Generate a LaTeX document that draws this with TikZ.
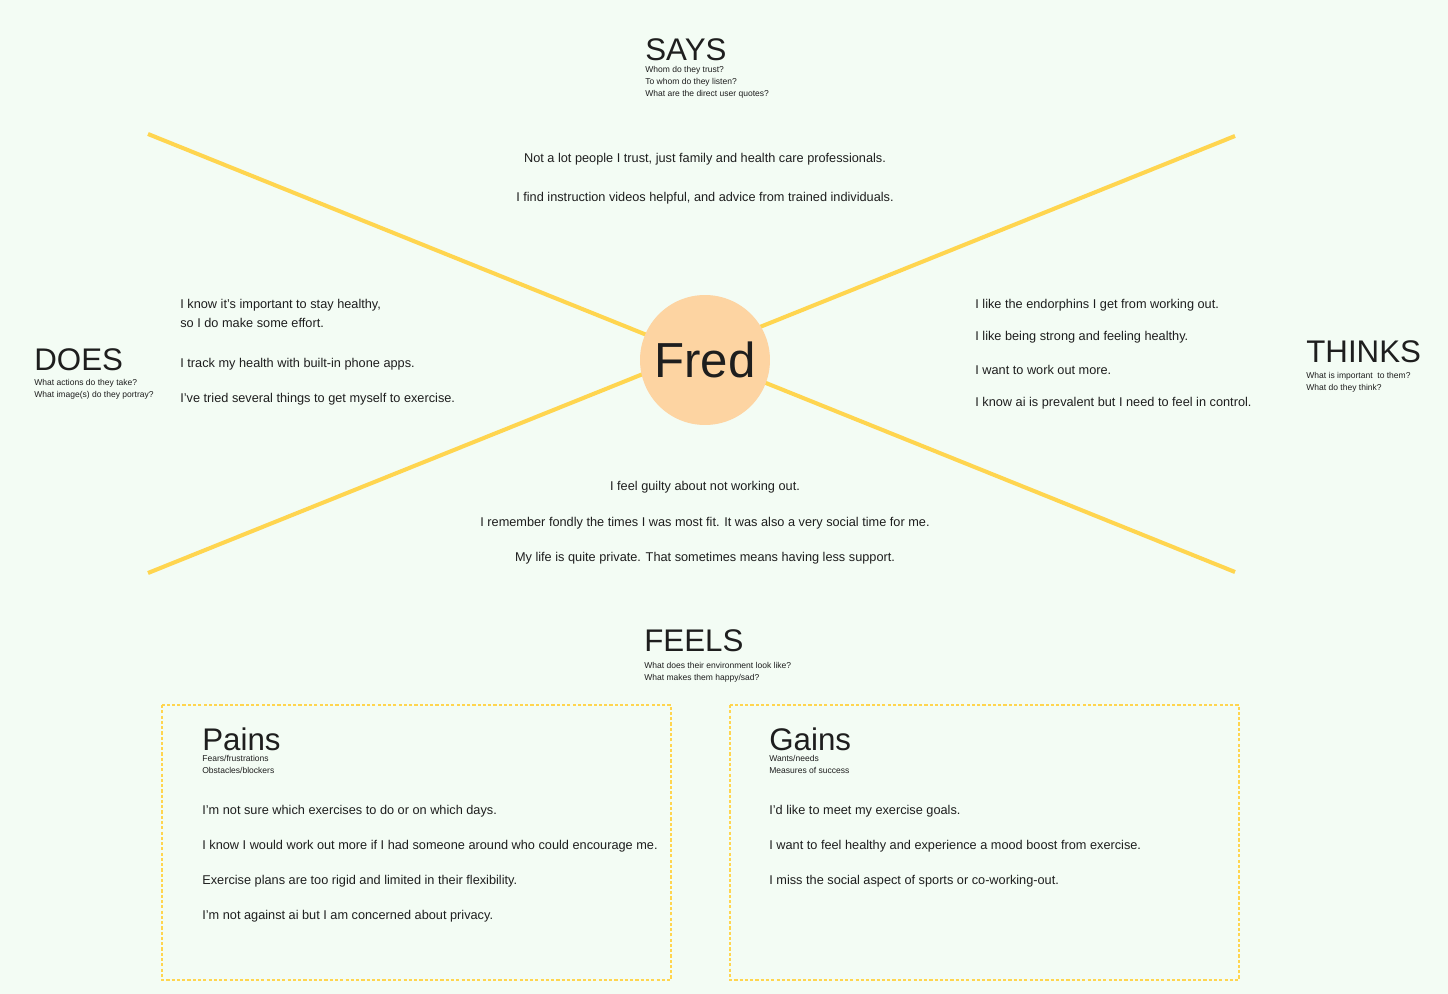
\documentclass[tikz,border=0pt]{standalone}
\usepackage{fontspec}
\setmainfont{Liberation Sans}
\definecolor{mapbg}{HTML}{F3FCF4}
\definecolor{mapline}{HTML}{FFD54F}
\definecolor{fredfill}{HTML}{FDD4A2}
\definecolor{ink}{HTML}{1E1E1E}
\tikzset{
  head/.style={anchor=base west,inner sep=0pt,text=ink,font=\fontsize{17.8}{18}\selectfont},
  hint/.style={anchor=west,inner sep=0pt,text=ink,font=\fontsize{4.85}{5}\selectfont},
  quote/.style={anchor=west,inner sep=0pt,text=ink,font=\fontsize{7.25}{8}\selectfont},
  cquote/.style={quote,anchor=center},
  quad/.style={mapline,line width=2.3pt},
  panel/.style={mapline,line width=1.1pt,dash pattern=on 1.8pt off 1.2pt}
}
\begin{document}
\begin{tikzpicture}[x=0.02cm,y=-0.02cm]
  \fill[mapbg] (0,0) rectangle (1448,994);
  \useasboundingbox (0,0) rectangle (1448,994);
  % the four quadrant lines
  \coordinate (nw) at (148,134);
  \coordinate (se) at (1235,572);
  \coordinate (sw) at (148,573);
  \coordinate (ne) at (1235,136);
  \draw[quad] (nw) -- (se);
  \draw[quad] (sw) -- (ne);
  \node[circle,fill=fredfill,minimum size=2.6cm,inner sep=0pt,text=ink,
        font=\fontsize{28}{28}\selectfont] (fred) at (705,360) {Fred};
  % says
  \node[head] (says) at (645,60) {SAYS};
  \node[hint] (says1) at (645,70) {Whom do they trust?};
  \node[hint] (says2) at (645,82) {To whom do they listen?};
  \node[hint] (says3) at (645,94) {What are the direct user quotes?};
  \node[cquote] (sq1) at (705,159) {Not a lot people I trust, just family and health care professionals.};
  \node[cquote] (sq2) at (705,198) {I find instruction videos helpful, and advice from trained individuals.};
  % does
  \node[head] (does) at (34,370) {DOES};
  \node[hint] (does1) at (34,383) {What actions do they take?};
  \node[hint] (does2) at (34,395) {What image(s) do they portray?};
  \node[quote] (dq1) at (180,305) {I know it’s important to stay healthy,};
  \node[quote] (dq2) at (180,323) {so I do make some effort.};
  \node[quote] (dq3) at (180,364) {I track my health with built-in phone apps.};
  \node[quote] (dq4) at (180,399) {I’ve tried several things to get myself to exercise.};
  % thinks
  \node[head] (thinks) at (1306,362) {THINKS};
  \node[hint] (thinks1) at (1306,376) {What is important\ \ to them?};
  \node[hint] (thinks2) at (1306,388) {What do they think?};
  \node[quote] (tq1) at (975,305) {I like the endorphins I get from working out.};
  \node[quote] (tq2) at (975,337) {I like being strong and feeling healthy.};
  \node[quote] (tq3) at (975,370) {I want to work out more.};
  \node[quote] (tq4) at (975,403) {I know ai is prevalent but I need to feel in control.};
  % feels
  \node[cquote] (fq1) at (705,487) {I feel guilty about not working out.};
  \node[cquote] (fq2) at (705,523) {I remember fondly the times I was most fit. It was also a very social time for me.};
  \node[cquote] (fq3) at (705,558) {My life is quite private. That sometimes means having less support.};
  \node[head] (feels) at (644,651) {FEELS};
  \node[hint] (feels1) at (644,665) {What does their environment look like?};
  \node[hint] (feels2) at (644,678) {What makes them happy/sad?};
  % pains and gains
  \draw[panel] (162,705) rectangle (671,980);
  \draw[panel] (730,705) rectangle (1239,980);
  \node[head] (pains) at (202,750) {Pains};
  \node[hint] (pains1) at (202,758) {Fears/frustrations};
  \node[hint] (pains2) at (202,770) {Obstacles/blockers};
  \node[quote] (pq1) at (202,811) {I’m not sure which exercises to do or on which days.};
  \node[quote] (pq2) at (202,846) {I know I would work out more if I had someone around who could encourage me.};
  \node[quote] (pq3) at (202,881) {Exercise plans are too rigid and limited in their flexibility.};
  \node[quote] (pq4) at (202,916) {I’m not against ai but I am concerned about privacy.};
  \node[head] (gains) at (769,750) {Gains};
  \node[hint] (gains1) at (769,758) {Wants/needs};
  \node[hint] (gains2) at (769,770) {Measures of success};
  \node[quote] (gq1) at (769,811) {I’d like to meet my exercise goals.};
  \node[quote] (gq2) at (769,846) {I want to feel healthy and experience a mood boost from exercise.};
  \node[quote] (gq3) at (769,881) {I miss the social aspect of sports or co-working-out.};
\end{tikzpicture}
\end{document}
